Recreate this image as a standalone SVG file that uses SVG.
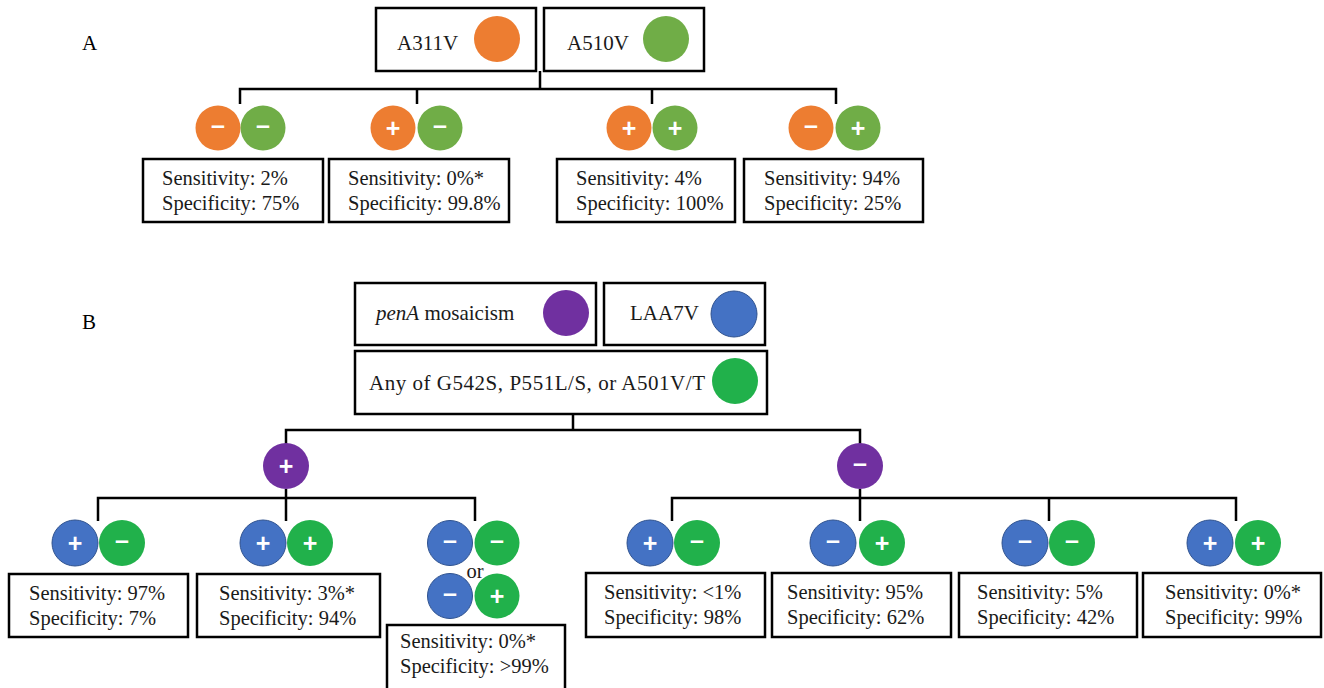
<svg xmlns="http://www.w3.org/2000/svg" width="1324" height="688" viewBox="0 0 1324 688">
<style>
.bx{fill:#fff;stroke:#000;stroke-width:2.5}
.t{font-family:"Liberation Serif","Times New Roman",serif;font-size:20.5px;fill:#1a1a1a}
.tt{font-family:"Liberation Serif","Times New Roman",serif;font-size:21px;fill:#1a1a1a}
.lbl{font-family:"Liberation Serif","Times New Roman",serif;font-size:21px;fill:#000}
.ln{fill:none;stroke:#000;stroke-width:2.5}
.s{font-family:"Liberation Sans",Arial,sans-serif;font-weight:bold;font-size:25px;fill:#fff;text-anchor:middle}
.or{fill:#ED7D31}
.ga{fill:#70AD47}
.pu{fill:#7030A0}
.bl{fill:#4472C4;stroke:#2F528F;stroke-width:1}
.gb{fill:#21B14B}
</style>
<rect width="1324" height="688" fill="#fff"/>
<text class="lbl" x="82" y="50">A</text>
<text class="lbl" x="82" y="329">B</text>

<g id="connectors">
<path class="ln" d="M540 71V89M240 104V89H836V104M417 89V104M652 89V104"/>
<path class="ln" d="M573 414V430M286 444V430H860V444"/>
<path class="ln" d="M286 489V498M98 521V498H475V521M286 498V521"/>
<path class="ln" d="M860 489V498M672 521V498H1236V521M860 498V521M1049 498V521"/>
</g>

<g id="A311V"><rect class="bx" x="376" y="8" width="160" height="63"/><text class="tt" x="397" y="50">A311V</text><circle class="or" cx="497" cy="39" r="23"/></g>
<g id="A510V"><rect class="bx" x="544" y="8" width="160" height="63"/><text class="tt" x="567" y="50">A510V</text><circle class="ga" cx="666" cy="39" r="23"/></g>

<g id="a1"><circle class="or" cx="218" cy="128" r="22.5"/><circle class="ga" cx="263" cy="128" r="22.5"/><text class="s" x="218" y="134">–</text><text class="s" x="263" y="134">–</text>
<rect class="bx" x="143" y="159" width="180" height="63"/><text class="t" x="162" y="185">Sensitivity: 2%</text><text class="t" x="162" y="210">Specificity: 75%</text></g>
<g id="a2"><circle class="or" cx="393" cy="128" r="22.5"/><circle class="ga" cx="440" cy="128" r="22.5"/><text class="s" x="393" y="137">+</text><text class="s" x="440" y="134">–</text>
<rect class="bx" x="329" y="159" width="180" height="63"/><text class="t" x="348" y="185">Sensitivity: 0%*</text><text class="t" x="348" y="210">Specificity: 99.8%</text></g>
<g id="a3"><circle class="or" cx="629" cy="128" r="22.5"/><circle class="ga" cx="675" cy="128" r="22.5"/><text class="s" x="629" y="137">+</text><text class="s" x="675" y="137">+</text>
<rect class="bx" x="557" y="159" width="178" height="63"/><text class="t" x="576" y="185">Sensitivity: 4%</text><text class="t" x="576" y="210">Specificity: 100%</text></g>
<g id="a4"><circle class="or" cx="811" cy="128" r="22.5"/><circle class="ga" cx="858" cy="128" r="22.5"/><text class="s" x="811" y="134">–</text><text class="s" x="858" y="137">+</text>
<rect class="bx" x="744" y="159" width="179" height="63"/><text class="t" x="764" y="185">Sensitivity: 94%</text><text class="t" x="764" y="210">Specificity: 25%</text></g>

<g id="penA"><rect class="bx" x="355" y="283" width="241" height="62"/><text class="tt" x="376" y="320"><tspan font-style="italic">penA</tspan> mosaicism</text><circle class="pu" cx="566" cy="313" r="23"/></g>
<g id="LAA7V"><rect class="bx" x="604" y="283" width="161" height="62"/><text class="tt" x="630" y="320">LAA7V</text><circle class="bl" cx="734" cy="314" r="23"/></g>
<g id="anyof"><rect class="bx" x="355" y="351" width="412" height="63"/><text class="tt" x="369" y="390" textLength="336">Any of G542S, P551L/S, or A501V/T</text><circle class="gb" cx="735" cy="381" r="23"/></g>

<g id="pplus"><circle class="pu" cx="286" cy="466" r="23"/><text class="s" x="286" y="475">+</text></g>
<g id="pminus"><circle class="pu" cx="860" cy="466" r="23"/><text class="s" x="860" y="472">–</text></g>

<g id="b1"><circle class="bl" cx="75" cy="543" r="23"/><circle class="gb" cx="122" cy="543" r="23"/><text class="s" x="75" y="552">+</text><text class="s" x="122" y="549">–</text>
<rect class="bx" x="9" y="574" width="179" height="63"/><text class="t" x="29" y="600">Sensitivity: 97%</text><text class="t" x="29" y="625">Specificity: 7%</text></g>
<g id="b2"><circle class="bl" cx="263" cy="543" r="23"/><circle class="gb" cx="310" cy="543" r="23"/><text class="s" x="263" y="552">+</text><text class="s" x="310" y="552">+</text>
<rect class="bx" x="197" y="574" width="183" height="63"/><text class="t" x="219" y="600">Sensitivity: 3%*</text><text class="t" x="219" y="625">Specificity: 94%</text></g>
<g id="b3"><circle class="bl" cx="450" cy="543" r="22.5"/><circle class="gb" cx="497" cy="543" r="22.5"/><text class="s" x="450" y="549">–</text><text class="s" x="497" y="549">–</text>
<text class="t" x="475" y="578" text-anchor="middle">or</text>
<circle class="bl" cx="450" cy="596" r="22.5"/><circle class="gb" cx="497" cy="596" r="22.5"/><text class="s" x="450" y="602">–</text><text class="s" x="497" y="605">+</text>
<rect class="bx" x="387" y="625" width="178" height="66"/><text class="t" x="400" y="648">Sensitivity: 0%*</text><text class="t" x="400" y="673">Specificity: &gt;99%</text></g>
<g id="b4"><circle class="bl" cx="650" cy="543" r="23"/><circle class="gb" cx="697" cy="543" r="23"/><text class="s" x="650" y="552">+</text><text class="s" x="697" y="549">–</text>
<rect class="bx" x="586" y="573" width="179" height="64"/><text class="t" x="604" y="599">Sensitivity: &lt;1%</text><text class="t" x="604" y="624">Specificity: 98%</text></g>
<g id="b5"><circle class="bl" cx="833" cy="543" r="23"/><circle class="gb" cx="882" cy="543" r="23"/><text class="s" x="833" y="549">–</text><text class="s" x="882" y="552">+</text>
<rect class="bx" x="772" y="573" width="179" height="64"/><text class="t" x="787" y="599">Sensitivity: 95%</text><text class="t" x="787" y="624">Specificity: 62%</text></g>
<g id="b6"><circle class="bl" cx="1025" cy="543" r="23"/><circle class="gb" cx="1072" cy="543" r="23"/><text class="s" x="1025" y="549">–</text><text class="s" x="1072" y="549">–</text>
<rect class="bx" x="959" y="573" width="178" height="64"/><text class="t" x="977" y="599">Sensitivity: 5%</text><text class="t" x="977" y="624">Specificity: 42%</text></g>
<g id="b7"><circle class="bl" cx="1210" cy="543" r="23"/><circle class="gb" cx="1258" cy="543" r="23"/><text class="s" x="1210" y="552">+</text><text class="s" x="1258" y="552">+</text>
<rect class="bx" x="1143" y="573" width="178" height="64"/><text class="t" x="1165" y="599">Sensitivity: 0%*</text><text class="t" x="1165" y="624">Specificity: 99%</text></g>
</svg>
